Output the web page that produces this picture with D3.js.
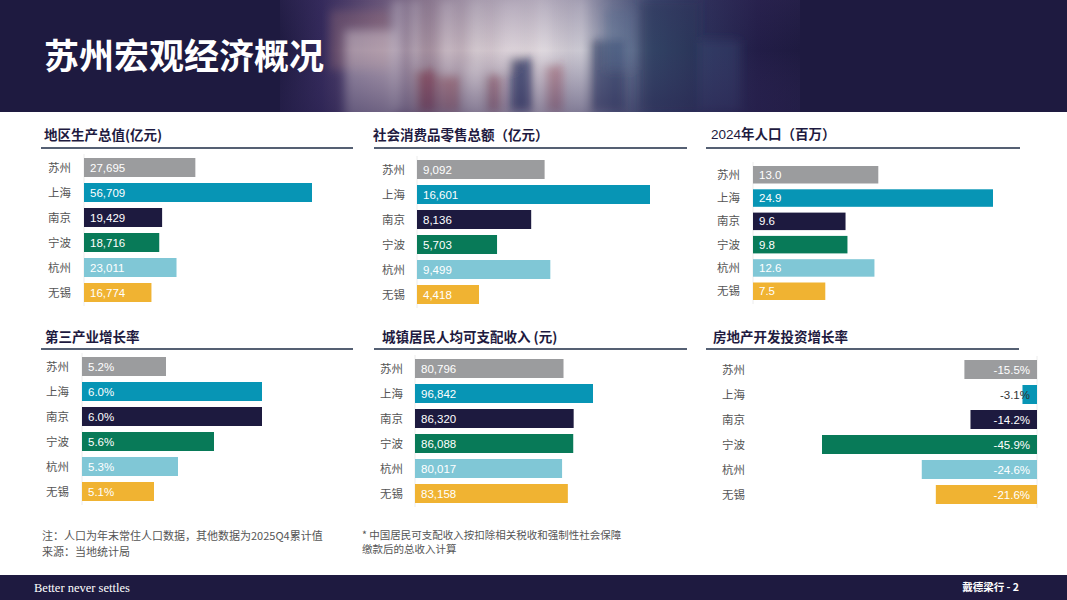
<!DOCTYPE html>
<html>
<head>
<meta charset="utf-8">
<script src="https://cdn.jsdelivr.net/npm/d3@7/dist/d3.min.js"></script>
<style>
  html, body { margin: 0; padding: 0; background: #fff; }
  svg { display: block; }
</style>
</head>
<body>
<svg id="chart" width="1067" height="600"></svg>
<script>
// ---------- DATA ----------
const cities = ['苏州', '上海', '南京', '宁波', '杭州', '无锡'];
const gdp = [27695, 56709, 19429, 18716, 23011, 16774];
const retail = [9092, 16601, 8136, 5703, 9499, 4418];
const population = [13.0, 24.9, 9.6, 9.8, 12.6, 7.5];
const tertiaryGrowth = [5.2, 6.0, 6.0, 5.6, 5.3, 5.1];
const income = [80796, 96842, 86320, 86088, 80017, 83158];
const realEstateGrowth = [-15.5, -3.1, -14.2, -45.9, -24.6, -21.6];
const cityColors = ['#9b9c9e', '#0795b5', '#1d1a3f', '#087a58', '#80c7d6', '#f0b332'];

const mainTitle = '苏州宏观经济概况';
const panelTitles = ['地区生产总值(亿元)', '社会消费品零售总额（亿元）', '2024年人口（百万）',
                     '第三产业增长率', '城镇居民人均可支配收入 (元)', '房地产开发投资增长率'];
const noteLines = ['注：人口为年末常住人口数据，其他数据为2025Q4累计值', '来源：当地统计局'];
const starNoteLines = ['* 中国居民可支配收入按扣除相关税收和强制性社会保障', '缴款后的总收入计算'];
const footerLeft = 'Better never settles';
const footerRight = '戴德梁行 - 2';

// ---------- SETUP ----------
const NAVY = '#1e1a40';
const CJK = '"Noto Sans CJK SC", "Noto Sans", sans-serif';
const LAT = '"Liberation Sans", Arial, "Noto Sans CJK SC", sans-serif';
const svg = d3.select('#chart');

// ---------- HEADER (decorative photo imitation) ----------
const defs = svg.append('defs');
const hg = defs.append('linearGradient').attr('id', 'photo').attr('x1', 0).attr('x2', 1).attr('y1', 0).attr('y2', 0);
[[0, NAVY], [0.08, '#33295a'], [0.18, '#6e5a7c'], [0.28, '#a08a9a'], [0.38, '#cbbec6'], [0.5, '#dcd4da'],
 [0.58, '#c2bfca'], [0.64, '#7a859e'], [0.72, '#3d4d72'], [0.82, '#2b2f58'], [0.92, '#221d47'], [1, NAVY]]
  .forEach(s => hg.append('stop').attr('offset', s[0]).attr('stop-color', s[1]));
const vg = defs.append('linearGradient').attr('id', 'fadeV').attr('x1', 0).attr('x2', 0).attr('y1', 0).attr('y2', 1);
vg.append('stop').attr('offset', 0).attr('stop-color', '#3a2f60').attr('stop-opacity', 0.25);
vg.append('stop').attr('offset', 0.45).attr('stop-color', '#3a2f60').attr('stop-opacity', 0.0);
vg.append('stop').attr('offset', 1).attr('stop-color', '#2a2250').attr('stop-opacity', 0.45);
defs.append('filter').attr('id', 'blur').attr('x', '-20%').attr('y', '-20%').attr('width', '140%').attr('height', '140%')
  .append('feGaussianBlur').attr('stdDeviation', 5);
defs.append('clipPath').attr('id', 'hdrClip').append('rect').attr('x', 0).attr('y', 0).attr('width', 1067).attr('height', 112);

svg.append('rect').attr('x', 0).attr('y', 0).attr('width', 1067).attr('height', 112).attr('fill', NAVY);
const hdr = svg.append('g').attr('clip-path', 'url(#hdrClip)');
hdr.append('rect').attr('x', 280).attr('y', 0).attr('width', 520).attr('height', 112).attr('fill', 'url(#photo)');
const photoBits = [
  [330, 10, 60, 60, '#b07a7c', 0.35], [345, 30, 50, 90, '#d9d0d8', 0.5], [392, 0, 12, 112, '#e8e3e8', 0.4],
  [410, 0, 10, 112, '#efeaee', 0.35], [440, 0, 14, 112, '#f1ecf0', 0.3], [470, 0, 12, 90, '#e6e0e6', 0.3],
  [500, 0, 20, 70, '#eae6ea', 0.3], [540, 0, 10, 112, '#f0eef2', 0.25], [575, 0, 12, 112, '#e1e1e8', 0.3],
  [415, 70, 22, 42, '#8a2f3e', 0.55], [440, 75, 20, 37, '#9a4048', 0.45], [465, 65, 18, 47, '#e0d8dc', 0.45],
  [485, 75, 16, 37, '#8a3040', 0.45], [510, 58, 22, 54, '#1f2b58', 0.7], [545, 65, 18, 47, '#9a3a45', 0.4],
  [590, 40, 35, 72, '#23305a', 0.55], [605, 10, 28, 60, '#5f7898', 0.4], [640, 0, 60, 112, '#233055', 0.45],
  [700, 40, 40, 72, '#3a4e78', 0.35]
];
hdr.append('g').attr('filter', 'url(#blur)').selectAll('rect').data(photoBits).join('rect')
  .attr('x', d => d[0]).attr('y', d => d[1]).attr('width', d => d[2]).attr('height', d => d[3])
  .attr('fill', d => d[4]).attr('opacity', d => d[5]);
hdr.append('rect').attr('x', 280).attr('y', 0).attr('width', 520).attr('height', 112).attr('fill', 'url(#fadeV)');

svg.append('text').attr('x', 44).attr('y', 69).text(mainTitle)
  .attr('font-family', CJK).attr('font-weight', 700).attr('font-size', 35).attr('fill', '#fff');

// ---------- PANELS ----------
const dash = s => s.replace(/\u2212/g, '-');
const fmtInt = v => dash(d3.format(',')(v));
const fmt1 = v => dash(d3.format('.1f')(v));
const fmtPct = v => dash(d3.format('.1f')(v)) + '%';

const panels = [
  { title: panelTitles[0], values: gdp, fmt: fmtInt, titleX: 44, titleY: 140, lineX1: 41, lineX2: 353, lineY: 148,
    labelX: 48, barTop: 158, step: 25, barH: 19, domain: [0, d3.max(gdp)], range: [84, 312] },
  { title: panelTitles[1], values: retail, fmt: fmtInt, titleX: 373, titleY: 140, lineX1: 374, lineX2: 687, lineY: 148,
    labelX: 382, barTop: 160, step: 25, barH: 19, domain: [0, d3.max(retail)], range: [417, 650] },
  { title: panelTitles[2], values: population, fmt: fmt1, titleX: 711, titleY: 139, lineX1: 706, lineX2: 1020, lineY: 148,
    labelX: 717, barTop: 166, step: 23.3, barH: 17.5, domain: [0, d3.max(population)], range: [753, 993] },
  { title: panelTitles[3], values: tertiaryGrowth, fmt: fmtPct, titleX: 45, titleY: 342, lineX1: 41, lineX2: 353, lineY: 349,
    labelX: 46, barTop: 357, step: 25, barH: 19, domain: [4.5, 6.0], range: [82, 262] },
  { title: panelTitles[4], values: income, fmt: fmtInt, titleX: 382, titleY: 342, lineX1: 374, lineX2: 687, lineY: 349,
    labelX: 380, barTop: 359, step: 25, barH: 19, domain: [0, d3.max(income)], range: [415, 593] },
  { title: panelTitles[5], values: realEstateGrowth, fmt: fmtPct, titleX: 713, titleY: 342, lineX1: 706, lineX2: 1019, lineY: 349,
    labelX: 722, barTop: 360, step: 25, barH: 19, domain: [d3.min(realEstateGrowth), 0], range: [822, 1037], negative: true }
];

panels.forEach((p, pi) => {
  const g = svg.append('g');
  const t = g.append('text').attr('x', p.titleX).attr('y', p.titleY)
    .attr('font-family', CJK).attr('font-size', 13.5).attr('fill', NAVY);
  if (pi === 2) {
    t.append('tspan').attr('font-family', LAT).attr('font-weight', 400).attr('font-size', 13.5).text('2024');
    t.append('tspan').attr('font-weight', 700).text(p.title.replace('2024', ''));
  } else {
    t.attr('font-weight', 700).text(p.title);
  }
  g.append('line').attr('x1', p.lineX1).attr('x2', p.lineX2).attr('y1', p.lineY).attr('y2', p.lineY)
    .attr('stroke', '#1d2b45').attr('stroke-width', 1.3);

  const pad = (p.step - p.barH) / p.step;
  const y = d3.scaleBand().domain(cities)
    .range([p.barTop - pad / 2 * p.step, p.barTop - pad / 2 * p.step + p.step * cities.length])
    .paddingInner(pad).paddingOuter(pad / 2);
  const x = d3.scaleLinear().domain(p.domain).range(p.range);
  const base = p.negative ? x(0) : x(p.domain[0]);

  g.append('line').attr('x1', base).attr('x2', base)
    .attr('y1', y(cities[0]) - 4).attr('y2', y(cities[cities.length - 1]) + y.bandwidth() + 4)
    .attr('stroke', '#ececec').attr('stroke-width', 1);

  const data = cities.map((c, i) => ({ city: c, v: p.values[i], color: cityColors[i] }));

  g.selectAll('rect.bar').data(data).join('rect').attr('class', 'bar')
    .attr('x', d => p.negative ? x(d.v) : base)
    .attr('y', d => y(d.city))
    .attr('width', d => p.negative ? base - x(d.v) : x(d.v) - base)
    .attr('height', y.bandwidth())
    .attr('fill', d => d.color);

  g.selectAll('text.cat').data(data).join('text').attr('class', 'cat')
    .attr('x', p.labelX).attr('y', d => y(d.city) + y.bandwidth() / 2 + 4)
    .attr('font-family', CJK).attr('font-size', 11.5).attr('fill', '#555')
    .text(d => d.city);

  g.selectAll('text.val').data(data).join('text').attr('class', 'val')
    .attr('x', d => p.negative ? base - 7 : base + 6)
    .attr('y', d => y(d.city) + y.bandwidth() / 2 + 4)
    .attr('text-anchor', p.negative ? 'end' : 'start')
    .attr('font-family', LAT).attr('font-size', 11.5)
    .attr('fill', d => (p.negative && (base - x(d.v)) < 40) ? '#333' : '#fff')
    .text(d => p.fmt(d.v));
});

// ---------- NOTES ----------
svg.append('g').selectAll('text').data(noteLines).join('text')
  .attr('x', 42).attr('y', (d, i) => 540 + i * 16)
  .attr('font-family', CJK).attr('font-size', 11).attr('fill', '#555').text(d => d);
svg.append('g').selectAll('text').data(starNoteLines).join('text')
  .attr('x', 362).attr('y', (d, i) => 539 + i * 14)
  .attr('font-family', CJK).attr('font-size', 10.5).attr('fill', '#555').text(d => d);

// ---------- FOOTER ----------
svg.append('rect').attr('x', 0).attr('y', 575).attr('width', 1067).attr('height', 25).attr('fill', NAVY);
svg.append('text').attr('x', 34).attr('y', 592).text(footerLeft)
  .attr('font-family', '"Liberation Serif", "DejaVu Serif", serif').attr('font-size', 12.5).attr('fill', '#fff');
svg.append('text').attr('x', 1019).attr('y', 591).attr('text-anchor', 'end').text(footerRight)
  .attr('font-family', CJK).attr('font-size', 10.5).attr('font-weight', 700).attr('fill', '#fff');
</script>
</body>
</html>
